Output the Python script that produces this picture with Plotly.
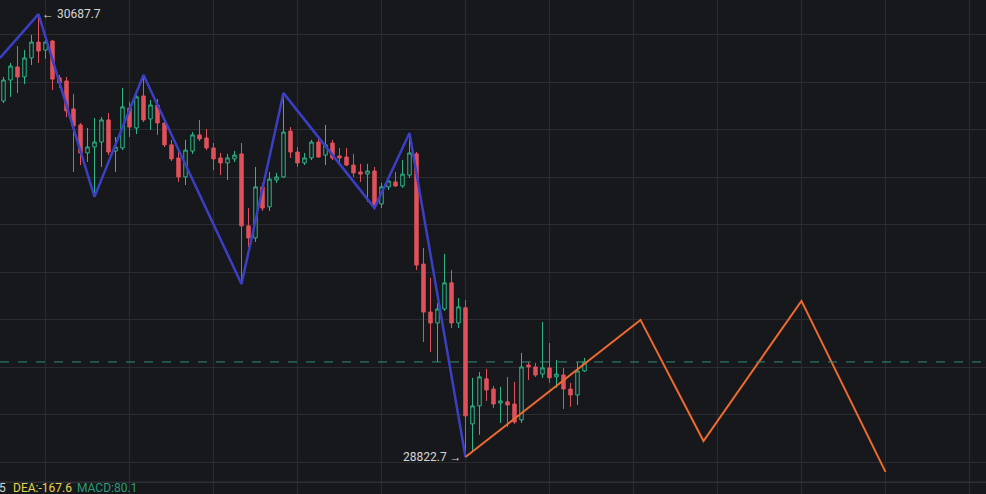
import plotly.graph_objects as go

# candle index, OHLC
idx = list(range(84))
opens = [30322, 30410, 30465, 30423, 30503, 30570, 30536, 30574, 30419, 30406,
         30288, 30221, 30103, 30128, 30149, 30242, 30111, 30124, 30292, 30208,
         30343, 30246, 30305, 30229, 30137, 30082, 30002, 30111, 30179, 30166,
         30124, 30082, 30061, 30078, 30099, 29796, 29745, 29960, 29876, 29989,
         30002, 30195, 30107, 30061, 30082, 30149, 30094, 30145, 30090, 30086,
         30052, 30023, 30014, 30027, 29888, 29960, 29981, 29964, 30010, 30099,
         29635, 29433, 29387, 29446, 29556, 29387, 29451, 28962, 29038, 29152,
         29109, 29050, 29055, 29046, 28979, 29210, 29202, 29172, 29198, 29160,
         29168, 29109, 29084, 29185]
highs = [30423, 30482, 30553, 30536, 30600, 30687.7, 30579, 30579, 30431, 30423,
         30351, 30229, 30208, 30250, 30254, 30271, 30170, 30377, 30318, 30347,
         30431, 30326, 30330, 30242, 30158, 30115, 30158, 30191, 30242, 30204,
         30145, 30103, 30099, 30111, 30145, 29871, 30044, 29977, 30023, 30019,
         30355, 30212, 30128, 30103, 30158, 30166, 30221, 30158, 30124, 30124,
         30099, 30057, 30057, 30044, 29977, 30002, 30023, 30073, 30187, 30107,
         29703, 29577, 29471, 29678, 29610, 29492, 29484, 29156, 29181, 29194,
         29122, 29118, 29160, 29139, 29261, 29223, 29219, 29391, 29303, 29231,
         29198, 29135, 29223, 29240]
lows = [30313, 30339, 30355, 30393, 30473, 30482, 30499, 30368, 30377, 30254,
        30023, 30052, 30065, 29918, 30044, 30094, 30023, 30115, 30170, 30183,
        30233, 30200, 30179, 30128, 30069, 29981, 29968, 30099, 30153, 30115,
        30031, 30010, 29989, 30065, 29551, 29707, 29728, 29859, 29859, 29977,
        29998, 30082, 30044, 30052, 30073, 30082, 30052, 30073, 30065, 30048,
        30002, 29981, 29897, 29871, 29871, 29947, 29960, 29956, 29998, 29610,
        29307, 29265, 29223, 29438, 29366, 29366, 28822.7, 28844, 28916, 29059,
        29029, 28966, 28949, 28962, 28966, 29147, 29160, 29156, 29135, 29114,
        29025, 29034, 29042, 29181]
closes = [30410, 30469, 30423, 30503, 30570, 30532, 30570, 30414, 30398, 30280,
          30217, 30103, 30128, 30149, 30242, 30107, 30128, 30297, 30212, 30339,
          30242, 30305, 30229, 30137, 30078, 30002, 30115, 30179, 30162, 30124,
          30078, 30061, 30082, 30094, 29796, 29745, 29960, 29871, 29993, 30002,
          30191, 30107, 30061, 30082, 30149, 30086, 30137, 30082, 30082, 30052,
          30019, 30014, 30027, 29884, 29960, 29985, 29964, 30014, 30103, 29631,
          29433, 29387, 29446, 29556, 29387, 29455, 28996, 29038, 29160, 29105,
          29046, 29059, 29042, 28970, 29202, 29202, 29168, 29198, 29156, 29172,
          29109, 29084, 29185, 29223]

# zigzag pivots (blue = history, orange = projection)
zz_x = [-0.5, 5, 13, 20, 34, 40, 53, 58, 66]
zz_y = [30503, 30687.7, 29918, 30431, 29551, 30355, 29871, 30187, 28822.7]
proj_x = [66, 91, 100, 114, 126]
proj_y = [28822.7, 29400, 28890, 29480, 28760]

BG = "#17181c"
UP = "#2eb88a"
DOWN = "#e0515b"

fig = go.Figure()
fig.add_trace(go.Candlestick(
    x=idx, open=opens, high=highs, low=lows, close=closes,
    increasing=dict(line=dict(color=UP, width=1), fillcolor=BG),
    decreasing=dict(line=dict(color=DOWN, width=1), fillcolor=DOWN),
    whiskerwidth=0, showlegend=False, hoverinfo="skip"))
fig.add_trace(go.Scatter(x=zz_x, y=zz_y, mode="lines",
                         line=dict(color="#3b3fc4", width=2.5), showlegend=False))
fig.add_trace(go.Scatter(x=proj_x, y=proj_y, mode="lines",
                         line=dict(color="#ef6a2e", width=2), showlegend=False))

fig.add_hline(y=closes[-1], line=dict(color="#2f8f78", width=1, dash="dash"))
fig.add_shape(type="line", xref="paper", yref="paper", x0=0, x1=1, y0=0.024, y1=0.024,
              line=dict(color="#3a3d44", width=1))

fig.add_annotation(x=5, y=30687.7, text="← 30687.7", showarrow=False,
                   xanchor="left", xshift=1, font=dict(color="#d6d6d6", size=12))
fig.add_annotation(x=66, y=28822.7, text="28822.7 →", showarrow=False,
                   xanchor="right", xshift=-1, font=dict(color="#d6d6d6", size=12))
fig.add_annotation(xref="paper", yref="paper", x=0, y=0.0, text="5", showarrow=False,
                   xanchor="left", yanchor="bottom", xshift=-3, yshift=-3,
                   font=dict(color="#d6d6d6", size=12))
fig.add_annotation(xref="paper", yref="paper", x=0.011, y=0.0, text="DEA:-167.6",
                   showarrow=False, xanchor="left", yanchor="bottom", yshift=-3,
                   font=dict(color="#e3d44a", size=12))
fig.add_annotation(xref="paper", yref="paper", x=0.076, y=0.0, text="MACD:80.1",
                   showarrow=False, xanchor="left", yanchor="bottom", yshift=-3,
                   font=dict(color="#2a9a78", size=12))

fig.update_layout(
    width=986, height=494, margin=dict(l=0, r=0, t=0, b=0),
    paper_bgcolor=BG, plot_bgcolor=BG,
    font=dict(family="Roboto"),
    xaxis=dict(range=[-0.5, 140.36], rangeslider=dict(visible=False),
               tick0=6, dtick=12, showgrid=True, gridcolor="#2a2c32",
               showticklabels=False, zeroline=False, fixedrange=True),
    yaxis=dict(range=[28667, 30747], tick0=28800, dtick=200, showgrid=True,
               gridcolor="#2a2c32", showticklabels=False, zeroline=False),
)

fig.write_html("out.html", config={"displayModeBar": False},
               post_script="document.body.style.margin='0';document.body.style.overflow='hidden';")
